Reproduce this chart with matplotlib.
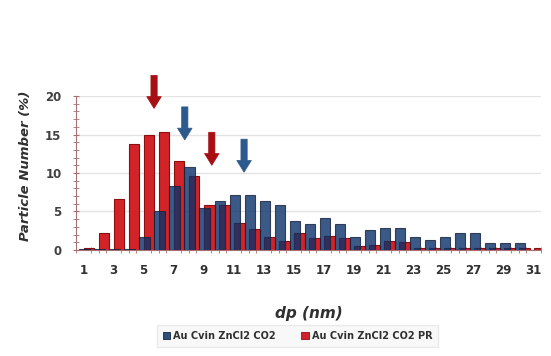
import numpy as np
import matplotlib.pyplot as plt
from matplotlib.patches import Patch

#-------------- Data ---------------------------------------------------------------

dp_nm = np.arange(1, 32)

# Au Cvin ZnCl2 CO2 (blue)
blue_vals = [0.1, 0.1, 0.1, 0.1, 1.7, 5.0, 8.3, 10.8, 5.4, 6.3,
             7.1, 7.1, 6.3, 5.8, 3.8, 3.4, 4.2, 3.4, 1.7, 2.6,
             2.9, 2.9, 1.7, 1.3, 1.7, 2.2, 2.2, 0.95, 0.95, 0.95, 0.0]

# Au Cvin ZnCl2 CO2 PR (red)
red_vals = [0.3, 2.2, 6.6, 13.8, 14.9, 15.3, 11.6, 9.6, 5.9, 5.8,
            3.5, 2.7, 1.7, 1.2, 2.2, 1.6, 1.8, 1.5, 0.5, 0.6,
            1.2, 1.0, 0.3, 0.3, 0.3, 0.3, 0.3, 0.2, 0.2, 0.2, 0.2]

series_names = ['Au Cvin ZnCl2 CO2', 'Au Cvin ZnCl2 CO2 PR']

# peak markers (x, y_top, y_tip, colour)
arrows = [(5.7, 22.7, 18.4, '#a80f14'),
          (7.75, 18.6, 14.3, '#2d5a8c'),
          (9.55, 15.3, 11.0, '#a80f14'),
          (11.7, 14.4, 10.1, '#2d5a8c')]

#-------------- Figure -------------------------------------------------------------

plt.rcParams['font.family'] = ['DejaVu Sans']

fig = plt.figure(figsize=(5.51, 3.56), dpi=100)
ax = fig.add_axes([0.138, 0.298, 0.844, 0.432])

w = 0.7
ax.bar(dp_nm + 0.38, red_vals, width=w, color='#d22428', edgecolor='#8a1010',
       linewidth=0.8, zorder=2)
# semi-transparent navy: looks blue on white, dark navy over the red bars
ax.bar(dp_nm + 0.08, blue_vals, width=w, color=(11/255, 49/255, 105/255),
       alpha=0.8, edgecolor='#15223c', linewidth=0.8, zorder=3)

for x, y0, y1, c in arrows:
    ax.annotate('', xy=(x, y1), xytext=(x, y0), annotation_clip=False,
                arrowprops=dict(arrowstyle='simple,head_length=0.85,head_width=1.05,tail_width=0.45',
                                mutation_scale=10, fc=c, ec=c, lw=0.5,
                                shrinkA=0, shrinkB=0), zorder=5)

ax.set_xlim(0.5, 31.5)
ax.set_ylim(0, 20)

ax.set_yticks([0, 5, 10, 15, 20])
ax.set_yticks(np.arange(0, 21, 1), minor=True)
ax.set_xticks(np.arange(1, 32, 2))
ax.set_xticks(np.arange(0.5, 31.6, 0.5), minor=True)

ax.yaxis.grid(True, color='#e4e4e4', linewidth=1.0, zorder=0)
ax.set_axisbelow(True)

spine_c = '#a87070'
for s in ['top', 'right']:
    ax.spines[s].set_visible(False)
ax.spines['left'].set_color(spine_c)
ax.spines['bottom'].set_color(spine_c)

ax.tick_params(axis='y', which='both', colors=spine_c, direction='inout')
ax.tick_params(axis='y', which='major', length=5, labelcolor='#404040', labelsize=8.5, pad=8)
ax.tick_params(axis='y', which='minor', length=4)
ax.tick_params(axis='x', which='major', length=0, labelcolor='#303030', labelsize=8.5, pad=10)
ax.tick_params(axis='x', which='minor', length=4, colors=spine_c, direction='inout')
for lab in ax.get_xticklabels() + ax.get_yticklabels():
    lab.set_fontweight('bold')

ax.set_ylabel('Particle Number (%)', fontsize=9.5, fontweight='bold', fontstyle='italic',
              color='#303030')
ax.yaxis.set_label_coords(-0.095, 0.55)
ax.set_xlabel('dp (nm)', fontsize=11, fontweight='bold', fontstyle='italic',
              color='#303030', labelpad=21)

handles = [Patch(facecolor='#2f4f7c', edgecolor='#15223c', linewidth=0.6),
           Patch(facecolor='#d22428', edgecolor='#8a1010', linewidth=0.6)]
leg = fig.legend(handles, series_names, loc='center', bbox_to_anchor=(0.54, 0.056),
                 ncol=2, fontsize=7, frameon=True, handlelength=0.8, handleheight=0.8,
                 handletextpad=0.3, columnspacing=2.6, borderpad=0.6)
leg.get_frame().set_facecolor('#f7f7f7')
leg.get_frame().set_edgecolor('#e6e6e6')
leg.get_frame().set_boxstyle('square', pad=0.0)
for t in leg.get_texts():
    t.set_fontweight('bold')
    t.set_color('#303030')

plt.savefig('out.png', dpi=100)
plt.close('all')
